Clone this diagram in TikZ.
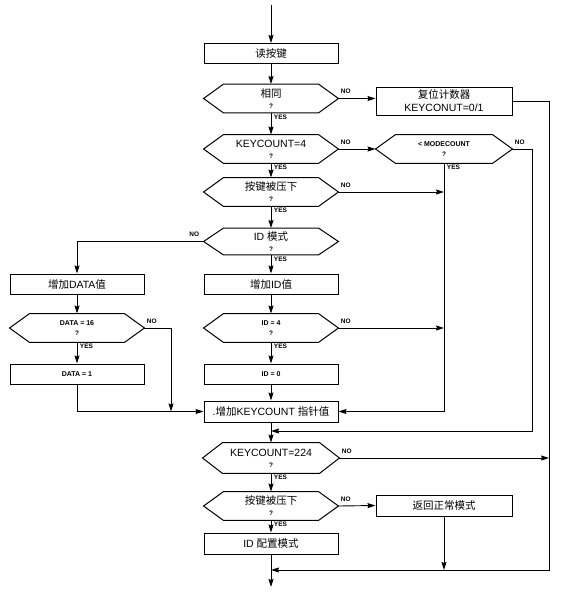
\documentclass[tikz,border=0pt]{standalone}
\usepackage{fontspec}
\setmainfont{Liberation Sans}
\newfontfamily\cjk{Noto Sans CJK SC}
\usetikzlibrary{arrows.meta}
\newcommand{\qm}{{\fontsize{6.5}{6.5}\bfseries\selectfont ?}}
\begin{document}
\begin{tikzpicture}[x=1pt,y=-1pt,
  line width=0.9pt,
  box/.style={draw, line width=1pt, minimum width=134pt, minimum height=20pt, inner sep=0pt, align=center, font=\fontsize{10.5}{13}\selectfont},
  hexn/.style={minimum width=134pt, minimum height=28pt, inner sep=0pt, align=center, font=\fontsize{10.5}{11}\selectfont},
  small/.style={font=\fontsize{7}{10.5}\bfseries\selectfont},
  arr/.style={-{Stealth[length=8pt,width=5pt,inset=1pt]}},
  lbl/.style={font=\fontsize{6.5}{7}\bfseries\selectfont, inner sep=1pt}
]
\useasboundingbox (0,0) rectangle (561,592);

% nodes
\coordinate (start) at (271,5);
\node[box] (read) at (271,53.5) {\cjk 读按键};
\node[hexn] (same) at (271,98.5) {{\cjk 相同}\\\qm};
\node[box, minimum width=136pt, minimum height=28pt, font=\fontsize{10.5}{13}\selectfont] (reset) at (444,101) {{\cjk 复位计数器}\\KEYCONUT=0/1};
\node[hexn] (kc4) at (271,149) {KEYCOUNT=4\\\qm};
\node[hexn, minimum width=136pt, small] (mode) at (444,149) {< MODECOUNT\\\qm};
\node[hexn] (press1) at (271,192) {{\cjk 按键被压下}\\\qm};
\node[hexn, minimum height=26pt] (idmode) at (271,241.5) {ID {\cjk 模式}\\\qm};
\node[box] (addid) at (271,284) {{\cjk 增加}ID{\cjk 值}};
\node[box] (adddata) at (77,284) {{\cjk 增加}DATA{\cjk 值}};
\node[hexn, small] (data16) at (77,328) {DATA = 16\\\qm};
\node[hexn, small] (id4) at (271,328) {ID = 4\\\qm};
\node[box, font=\fontsize{7}{8}\bfseries\selectfont] (data1) at (77,374) {DATA = 1};
\node[box, font=\fontsize{7}{8}\bfseries\selectfont] (id0) at (271,374) {ID = 0};
\node[box, minimum height=21pt] (addkc) at (271,411.5) {.{\cjk 增加}KEYCOUNT {\cjk 指针值}};
\node[hexn, minimum width=136pt, minimum height=30pt] (kc224) at (271,458) {KEYCOUNT=224\\\qm};
\node[hexn] (press2) at (271,506) {{\cjk 按键被压下}\\\qm};
\node[box, minimum width=136pt, minimum height=21pt] (ret) at (444,505.5) {\cjk 返回正常模式};
\node[box, minimum height=21pt] (idcfg) at (271,543.5) {ID {\cjk 配置模式}};
\coordinate (finish) at (271,587);
\coordinate (nj) at (532,431);
\coordinate (rj) at (549,570);
\coordinate (dj) at (171,411.5);

% hexagons
\foreach \n in {same,kc4,mode,press1,idmode,data16,id4,kc224,press2}
  \draw[line width=1pt] (\n.west) -- ([xshift=20pt]\n.north west) -- ([xshift=-20pt]\n.north east)
     -- (\n.east) -- ([xshift=-20pt]\n.south east) -- ([xshift=20pt]\n.south west) -- cycle;

% connectors
\draw[arr] (start) -- (read);
\draw[arr] (read) -- (same);
\draw[arr] (same) -- (kc4);
\draw[arr] (same.east) -- (same.east -| reset.west);
\draw[arr] (reset.east) -| (rj) -- (rj -| idcfg.south);
\draw[arr] (kc4) -- (press1);
\draw[arr] (kc4.east) -- (mode.west);
\draw[arr] (mode.south) |- (addkc.east);
\draw[arr] (mode.east) -| (nj) -- (nj -| addkc.south);
\draw[arr] (press1) -- (idmode);
\draw[arr] (press1.east) -- (press1.east -| mode.south);
\draw[arr] (idmode) -- (addid);
\draw[arr] (idmode.west) -| (adddata.north);
\draw[arr] (adddata) -- (data16);
\draw[arr] (data16) -- (data1);
\draw[arr] (data16.east) -| (dj);
\draw[arr] (data1.south) |- (addkc.west);
\draw[arr] (addid) -- (id4);
\draw[arr] (id4) -- (id0);
\draw[arr] (id4.east) -- (id4.east -| mode.south);
\draw[arr] (id0) -- (addkc);
\draw[arr] (addkc) -- (kc224);
\draw[arr] (kc224.east) -- (kc224.east -| rj);
\draw[arr] (kc224) -- (press2);
\draw[arr] (press2.east) -- (ret.west);
\draw[arr] (press2) -- (idcfg);
\draw[arr] (ret.south) -- (ret.south |- rj);
\draw[arr] (idcfg) -- (finish);

% labels
\foreach \n in {same,kc4,press1,idmode,data16,id4,kc224,press2,mode}
  \node[lbl, anchor=north west] at ([xshift=1.5pt,yshift=-0.5pt]\n.south) {YES};
\foreach \n in {same,kc4,press1,data16,id4,kc224,press2,mode}
  \node[lbl, anchor=south west] at ([xshift=1pt,yshift=3pt]\n.east) {NO};
\node[lbl, anchor=south east] at ([xshift=-3pt,yshift=3pt]idmode.west) {NO};
\end{tikzpicture}
\end{document}
